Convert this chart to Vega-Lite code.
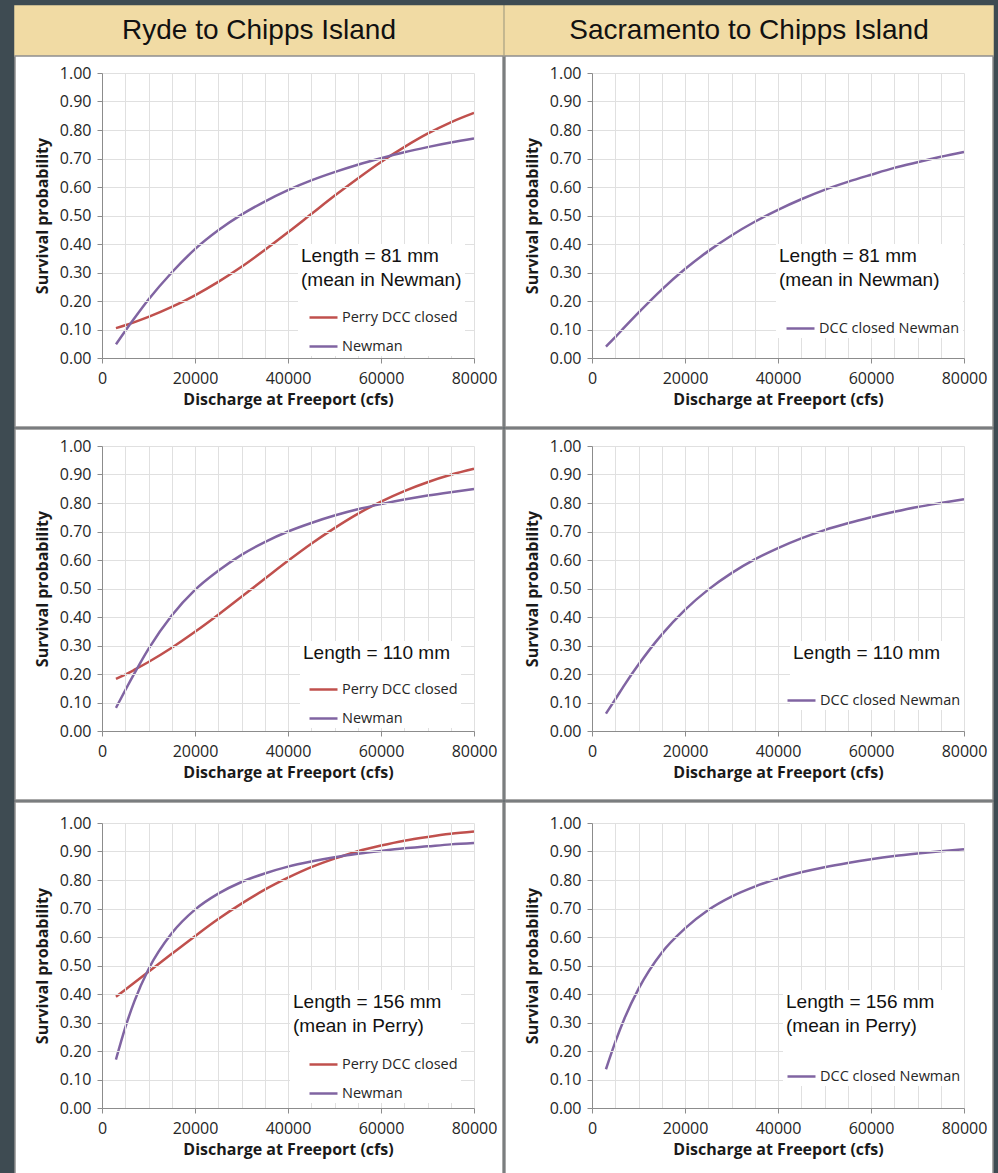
{
"$schema": "https://vega.github.io/schema/vega-lite/v6.json",
"padding": {"left": 14, "top": 5, "right": 5, "bottom": 0},
"background": "#3e4b52",
"config": {
 "view": {"stroke": null},
 "concat": {"spacing": 0},
 "axis": {"labelFont": "Open Sans", "labelFontSize": 16, "labelColor": "#262626", "titleFont": "Open Sans", "titleFontSize": 16, "titleFontWeight": "bold", "titleColor": "#1a1a1a", "domainColor": "#8c8c8c", "tickColor": "#8c8c8c", "tickSize": 5, "gridColor": "#e0e0e0", "zindex": 1, "labelOverlap": false},
 "axisX": {"labelPadding": 7, "titlePadding": 5},
 "axisY": {"labelPadding": 6, "titlePadding": 9},
 "legend": {"labelFont": "Open Sans", "labelFontSize": 14.5, "labelColor": "#262626", "symbolType": "stroke", "symbolSize": 784, "symbolStrokeWidth": 2.5, "rowPadding": 7, "padding": 3, "labelOffset": 3, "zindex": 2, "fillColor": "#ffffff", "titleFont": "Liberation Sans", "titleFontSize": 19, "titleFontWeight": "normal", "titleColor": "#111111", "titleLineHeight": 24, "titleLimit": 400, "orient": "none"}
},
"datasets": {
 "curves": [
  {"g":"A1","s":"Perry DCC closed","q":3000,"p":0.105},{"g":"A1","s":"Perry DCC closed","q":5000,"p":0.115},{"g":"A1","s":"Perry DCC closed","q":7000,"p":0.126},{"g":"A1","s":"Perry DCC closed","q":10000,"p":0.144},{"g":"A1","s":"Perry DCC closed","q":15000,"p":0.179},{"g":"A1","s":"Perry DCC closed","q":20000,"p":0.220},{"g":"A1","s":"Perry DCC closed","q":25000,"p":0.267},{"g":"A1","s":"Perry DCC closed","q":30000,"p":0.320},{"g":"A1","s":"Perry DCC closed","q":35000,"p":0.379},{"g":"A1","s":"Perry DCC closed","q":40000,"p":0.441},{"g":"A1","s":"Perry DCC closed","q":45000,"p":0.505},{"g":"A1","s":"Perry DCC closed","q":50000,"p":0.569},{"g":"A1","s":"Perry DCC closed","q":55000,"p":0.630},{"g":"A1","s":"Perry DCC closed","q":60000,"p":0.688},{"g":"A1","s":"Perry DCC closed","q":65000,"p":0.740},{"g":"A1","s":"Perry DCC closed","q":70000,"p":0.787},{"g":"A1","s":"Perry DCC closed","q":75000,"p":0.827},{"g":"A1","s":"Perry DCC closed","q":80000,"p":0.860},
  {"g":"A1","s":"Newman","q":3000,"p":0.048},{"g":"A1","s":"Newman","q":5000,"p":0.095},{"g":"A1","s":"Newman","q":7000,"p":0.140},{"g":"A1","s":"Newman","q":10000,"p":0.205},{"g":"A1","s":"Newman","q":15000,"p":0.300},{"g":"A1","s":"Newman","q":20000,"p":0.382},{"g":"A1","s":"Newman","q":25000,"p":0.448},{"g":"A1","s":"Newman","q":30000,"p":0.503},{"g":"A1","s":"Newman","q":35000,"p":0.549},{"g":"A1","s":"Newman","q":40000,"p":0.589},{"g":"A1","s":"Newman","q":45000,"p":0.623},{"g":"A1","s":"Newman","q":50000,"p":0.652},{"g":"A1","s":"Newman","q":55000,"p":0.678},{"g":"A1","s":"Newman","q":60000,"p":0.701},{"g":"A1","s":"Newman","q":65000,"p":0.722},{"g":"A1","s":"Newman","q":70000,"p":0.740},{"g":"A1","s":"Newman","q":75000,"p":0.756},{"g":"A1","s":"Newman","q":80000,"p":0.770},
  {"g":"B1","s":"DCC closed Newman","q":3000,"p":0.040},{"g":"B1","s":"DCC closed Newman","q":5000,"p":0.073},{"g":"B1","s":"DCC closed Newman","q":7000,"p":0.108},{"g":"B1","s":"DCC closed Newman","q":10000,"p":0.159},{"g":"B1","s":"DCC closed Newman","q":15000,"p":0.240},{"g":"B1","s":"DCC closed Newman","q":20000,"p":0.312},{"g":"B1","s":"DCC closed Newman","q":25000,"p":0.375},{"g":"B1","s":"DCC closed Newman","q":30000,"p":0.430},{"g":"B1","s":"DCC closed Newman","q":35000,"p":0.478},{"g":"B1","s":"DCC closed Newman","q":40000,"p":0.520},{"g":"B1","s":"DCC closed Newman","q":45000,"p":0.557},{"g":"B1","s":"DCC closed Newman","q":50000,"p":0.590},{"g":"B1","s":"DCC closed Newman","q":55000,"p":0.618},{"g":"B1","s":"DCC closed Newman","q":60000,"p":0.643},{"g":"B1","s":"DCC closed Newman","q":65000,"p":0.667},{"g":"B1","s":"DCC closed Newman","q":70000,"p":0.687},{"g":"B1","s":"DCC closed Newman","q":75000,"p":0.706},{"g":"B1","s":"DCC closed Newman","q":80000,"p":0.723},
  {"g":"A2","s":"Perry DCC closed","q":3000,"p":0.183},{"g":"A2","s":"Perry DCC closed","q":5000,"p":0.198},{"g":"A2","s":"Perry DCC closed","q":7000,"p":0.215},{"g":"A2","s":"Perry DCC closed","q":10000,"p":0.242},{"g":"A2","s":"Perry DCC closed","q":15000,"p":0.292},{"g":"A2","s":"Perry DCC closed","q":20000,"p":0.348},{"g":"A2","s":"Perry DCC closed","q":25000,"p":0.408},{"g":"A2","s":"Perry DCC closed","q":30000,"p":0.471},{"g":"A2","s":"Perry DCC closed","q":35000,"p":0.534},{"g":"A2","s":"Perry DCC closed","q":40000,"p":0.597},{"g":"A2","s":"Perry DCC closed","q":45000,"p":0.657},{"g":"A2","s":"Perry DCC closed","q":50000,"p":0.712},{"g":"A2","s":"Perry DCC closed","q":55000,"p":0.762},{"g":"A2","s":"Perry DCC closed","q":60000,"p":0.805},{"g":"A2","s":"Perry DCC closed","q":65000,"p":0.842},{"g":"A2","s":"Perry DCC closed","q":70000,"p":0.873},{"g":"A2","s":"Perry DCC closed","q":75000,"p":0.899},{"g":"A2","s":"Perry DCC closed","q":80000,"p":0.920},
  {"g":"A2","s":"Newman","q":3000,"p":0.081},{"g":"A2","s":"Newman","q":5000,"p":0.143},{"g":"A2","s":"Newman","q":7000,"p":0.203},{"g":"A2","s":"Newman","q":10000,"p":0.288},{"g":"A2","s":"Newman","q":15000,"p":0.405},{"g":"A2","s":"Newman","q":20000,"p":0.495},{"g":"A2","s":"Newman","q":25000,"p":0.562},{"g":"A2","s":"Newman","q":30000,"p":0.618},{"g":"A2","s":"Newman","q":35000,"p":0.663},{"g":"A2","s":"Newman","q":40000,"p":0.700},{"g":"A2","s":"Newman","q":45000,"p":0.730},{"g":"A2","s":"Newman","q":50000,"p":0.756},{"g":"A2","s":"Newman","q":55000,"p":0.778},{"g":"A2","s":"Newman","q":60000,"p":0.796},{"g":"A2","s":"Newman","q":65000,"p":0.812},{"g":"A2","s":"Newman","q":70000,"p":0.826},{"g":"A2","s":"Newman","q":75000,"p":0.838},{"g":"A2","s":"Newman","q":80000,"p":0.849},
  {"g":"B2","s":"DCC closed Newman","q":3000,"p":0.061},{"g":"B2","s":"DCC closed Newman","q":5000,"p":0.111},{"g":"B2","s":"DCC closed Newman","q":7000,"p":0.162},{"g":"B2","s":"DCC closed Newman","q":10000,"p":0.233},{"g":"B2","s":"DCC closed Newman","q":15000,"p":0.338},{"g":"B2","s":"DCC closed Newman","q":20000,"p":0.425},{"g":"B2","s":"DCC closed Newman","q":25000,"p":0.496},{"g":"B2","s":"DCC closed Newman","q":30000,"p":0.554},{"g":"B2","s":"DCC closed Newman","q":35000,"p":0.602},{"g":"B2","s":"DCC closed Newman","q":40000,"p":0.642},{"g":"B2","s":"DCC closed Newman","q":45000,"p":0.676},{"g":"B2","s":"DCC closed Newman","q":50000,"p":0.705},{"g":"B2","s":"DCC closed Newman","q":55000,"p":0.729},{"g":"B2","s":"DCC closed Newman","q":60000,"p":0.750},{"g":"B2","s":"DCC closed Newman","q":65000,"p":0.769},{"g":"B2","s":"DCC closed Newman","q":70000,"p":0.786},{"g":"B2","s":"DCC closed Newman","q":75000,"p":0.800},{"g":"B2","s":"DCC closed Newman","q":80000,"p":0.813},
  {"g":"A3","s":"Perry DCC closed","q":3000,"p":0.390},{"g":"A3","s":"Perry DCC closed","q":5000,"p":0.415},{"g":"A3","s":"Perry DCC closed","q":7000,"p":0.440},{"g":"A3","s":"Perry DCC closed","q":10000,"p":0.478},{"g":"A3","s":"Perry DCC closed","q":15000,"p":0.541},{"g":"A3","s":"Perry DCC closed","q":20000,"p":0.603},{"g":"A3","s":"Perry DCC closed","q":25000,"p":0.663},{"g":"A3","s":"Perry DCC closed","q":30000,"p":0.717},{"g":"A3","s":"Perry DCC closed","q":35000,"p":0.766},{"g":"A3","s":"Perry DCC closed","q":40000,"p":0.808},{"g":"A3","s":"Perry DCC closed","q":45000,"p":0.845},{"g":"A3","s":"Perry DCC closed","q":50000,"p":0.875},{"g":"A3","s":"Perry DCC closed","q":55000,"p":0.901},{"g":"A3","s":"Perry DCC closed","q":60000,"p":0.921},{"g":"A3","s":"Perry DCC closed","q":65000,"p":0.938},{"g":"A3","s":"Perry DCC closed","q":70000,"p":0.951},{"g":"A3","s":"Perry DCC closed","q":75000,"p":0.962},{"g":"A3","s":"Perry DCC closed","q":80000,"p":0.970},
  {"g":"A3","s":"Newman","q":3000,"p":0.170},{"g":"A3","s":"Newman","q":5000,"p":0.282},{"g":"A3","s":"Newman","q":7000,"p":0.376},{"g":"A3","s":"Newman","q":10000,"p":0.487},{"g":"A3","s":"Newman","q":15000,"p":0.613},{"g":"A3","s":"Newman","q":20000,"p":0.696},{"g":"A3","s":"Newman","q":25000,"p":0.752},{"g":"A3","s":"Newman","q":30000,"p":0.793},{"g":"A3","s":"Newman","q":35000,"p":0.823},{"g":"A3","s":"Newman","q":40000,"p":0.847},{"g":"A3","s":"Newman","q":45000,"p":0.865},{"g":"A3","s":"Newman","q":50000,"p":0.880},{"g":"A3","s":"Newman","q":55000,"p":0.892},{"g":"A3","s":"Newman","q":60000,"p":0.902},{"g":"A3","s":"Newman","q":65000,"p":0.911},{"g":"A3","s":"Newman","q":70000,"p":0.918},{"g":"A3","s":"Newman","q":75000,"p":0.925},{"g":"A3","s":"Newman","q":80000,"p":0.930},
  {"g":"B3","s":"DCC closed Newman","q":3000,"p":0.136},{"g":"B3","s":"DCC closed Newman","q":5000,"p":0.231},{"g":"B3","s":"DCC closed Newman","q":7000,"p":0.315},{"g":"B3","s":"DCC closed Newman","q":10000,"p":0.418},{"g":"B3","s":"DCC closed Newman","q":15000,"p":0.545},{"g":"B3","s":"DCC closed Newman","q":20000,"p":0.630},{"g":"B3","s":"DCC closed Newman","q":25000,"p":0.695},{"g":"B3","s":"DCC closed Newman","q":30000,"p":0.742},{"g":"B3","s":"DCC closed Newman","q":35000,"p":0.777},{"g":"B3","s":"DCC closed Newman","q":40000,"p":0.805},{"g":"B3","s":"DCC closed Newman","q":45000,"p":0.827},{"g":"B3","s":"DCC closed Newman","q":50000,"p":0.845},{"g":"B3","s":"DCC closed Newman","q":55000,"p":0.860},{"g":"B3","s":"DCC closed Newman","q":60000,"p":0.873},{"g":"B3","s":"DCC closed Newman","q":65000,"p":0.884},{"g":"B3","s":"DCC closed Newman","q":70000,"p":0.893},{"g":"B3","s":"DCC closed Newman","q":75000,"p":0.901},{"g":"B3","s":"DCC closed Newman","q":80000,"p":0.908}
 ]
},
"resolve": {"scale": {"x": "independent", "y": "independent", "color": "independent"}, "legend": {"color": "independent"}, "axis": {"x": "independent", "y": "independent"}},
"vconcat": [
 {
  "resolve": {"scale": {"x": "independent", "y": "independent", "color": "independent"}, "legend": {"color": "independent"}, "axis": {"x": "independent", "y": "independent"}},
  "hconcat": [
   {"width": 372, "height": 285, "layer": [
    {"data": {"values": [{}]}, "mark": {"type": "rect", "fill": "#f1dba4", "stroke": "#f1dba4", "strokeWidth": 1.5},
     "encoding": {"x": {"datum": -18710, "type": "quantitative", "scale": {"domain": [0, 80000], "nice": false, "zero": false}, "axis": {"title": "Discharge at Freeport (cfs)", "values": [0,5000,10000,15000,20000,25000,30000,35000,40000,45000,50000,55000,60000,65000,70000,75000,80000], "tickCount": 17, "format": "d", "labelExpr": "datum.value % 20000 === 0 ? datum.label : ''", "labelFlush": false, "labelOverlap": false, "tickOpacity": {"condition": {"test": "datum.value % 20000 === 0", "value": 1}, "value": 0}, "grid": true, "zindex": 1}}, "x2": {"datum": 86236},
                  "y": {"datum": 1.0596, "type": "quantitative", "scale": {"domain": [0, 1], "nice": false, "zero": false}, "axis": {"title": "Survival probability", "values": [0,0.1,0.2,0.3,0.4,0.5,0.6,0.7,0.8,0.9,1], "tickCount": 11, "format": ".2f", "labelOverlap": false, "grid": true, "zindex": 1}}, "y2": {"datum": 1.235}}},
    {"data": {"values": [{}]}, "mark": {"type": "rect", "fill": "#ffffff", "stroke": "#8f8f8f", "strokeWidth": 1.5},
     "encoding": {"x": {"datum": -18710, "type": "quantitative"}, "x2": {"datum": 86236},
                  "y": {"datum": -0.2421, "type": "quantitative"}, "y2": {"datum": 1.0596}}},
    {"data": {"name": "curves"}, "transform": [{"filter": "datum.g === 'A1'"}],
     "mark": {"type": "line", "strokeWidth": 2.5, "interpolate": "monotone"},
     "encoding": {
      "x": {"field": "q", "type": "quantitative"},
      "y": {"field": "p", "type": "quantitative"},
      "color": {"field": "s", "type": "nominal", "scale": {"domain": ["Perry DCC closed", "Newman"], "range": ["#c0504d", "#8064a2"]}, "legend": {"orient": "none", "legendX": 196, "legendY": 171, "title": ["Length = 81 mm", "(mean in Newman)"], "titlePadding": 12, "symbolOffset": 7}}
     }},
    {"data": {"values": [{}]}, "mark": {"type": "text", "text": "Ryde to Chipps Island", "align": "center", "baseline": "middle", "font": "Liberation Sans", "fontSize": 28, "color": "#111111"},
     "encoding": {"x": {"datum": 33763, "type": "quantitative"}, "y": {"datum": 1.147, "type": "quantitative"}}}
   ]},
   {"width": 372, "height": 285, "layer": [
    {"data": {"values": [{}]}, "mark": {"type": "rect", "fill": "#f1dba4", "stroke": "#f1dba4", "strokeWidth": 1.5},
     "encoding": {"x": {"datum": -18710, "type": "quantitative", "scale": {"domain": [0, 80000], "nice": false, "zero": false}, "axis": {"title": "Discharge at Freeport (cfs)", "values": [0,5000,10000,15000,20000,25000,30000,35000,40000,45000,50000,55000,60000,65000,70000,75000,80000], "tickCount": 17, "format": "d", "labelExpr": "datum.value % 20000 === 0 ? datum.label : ''", "labelFlush": false, "labelOverlap": false, "tickOpacity": {"condition": {"test": "datum.value % 20000 === 0", "value": 1}, "value": 0}, "grid": true, "zindex": 1}}, "x2": {"datum": 86236},
                  "y": {"datum": 1.0596, "type": "quantitative", "scale": {"domain": [0, 1], "nice": false, "zero": false}, "axis": {"title": "Survival probability", "values": [0,0.1,0.2,0.3,0.4,0.5,0.6,0.7,0.8,0.9,1], "tickCount": 11, "format": ".2f", "labelOverlap": false, "grid": true, "zindex": 1}}, "y2": {"datum": 1.235}}},
    {"data": {"values": [{}]}, "mark": {"type": "rect", "fill": "#ffffff", "stroke": "#8f8f8f", "strokeWidth": 1.5},
     "encoding": {"x": {"datum": -18710, "type": "quantitative"}, "x2": {"datum": 86236},
                  "y": {"datum": -0.2421, "type": "quantitative"}, "y2": {"datum": 1.0596}}},
    {"data": {"name": "curves"}, "transform": [{"filter": "datum.g === 'B1'"}],
     "mark": {"type": "line", "strokeWidth": 2.5, "interpolate": "monotone"},
     "encoding": {
      "x": {"field": "q", "type": "quantitative"},
      "y": {"field": "p", "type": "quantitative"},
      "color": {"field": "s", "type": "nominal", "scale": {"domain": ["DCC closed Newman"], "range": ["#8064a2"]}, "legend": {"orient": "none", "legendX": 184, "legendY": 171, "title": ["Length = 81 mm", "(mean in Newman)"], "titlePadding": 23, "symbolOffset": 6}}
     }},
    {"data": {"values": [{}]}, "mark": {"type": "text", "text": "Sacramento to Chipps Island", "align": "center", "baseline": "middle", "font": "Liberation Sans", "fontSize": 28, "color": "#111111"},
     "encoding": {"x": {"datum": 33763, "type": "quantitative"}, "y": {"datum": 1.147, "type": "quantitative"}}}
   ]}
  ]
 },
 {
  "resolve": {"scale": {"x": "independent", "y": "independent", "color": "independent"}, "legend": {"color": "independent"}, "axis": {"x": "independent", "y": "independent"}},
  "hconcat": [
   {"width": 372, "height": 285, "layer": [
    {"data": {"values": [{}]}, "mark": {"type": "rect", "fill": "#ffffff", "stroke": "#8f8f8f", "strokeWidth": 1.5},
     "encoding": {"x": {"datum": -18710, "type": "quantitative", "scale": {"domain": [0, 80000], "nice": false, "zero": false}, "axis": {"title": "Discharge at Freeport (cfs)", "values": [0,5000,10000,15000,20000,25000,30000,35000,40000,45000,50000,55000,60000,65000,70000,75000,80000], "tickCount": 17, "format": "d", "labelExpr": "datum.value % 20000 === 0 ? datum.label : ''", "labelFlush": false, "labelOverlap": false, "tickOpacity": {"condition": {"test": "datum.value % 20000 === 0", "value": 1}, "value": 0}, "grid": true, "zindex": 1}}, "x2": {"datum": 86236},
                  "y": {"datum": -0.2421, "type": "quantitative", "scale": {"domain": [0, 1], "nice": false, "zero": false}, "axis": {"title": "Survival probability", "values": [0,0.1,0.2,0.3,0.4,0.5,0.6,0.7,0.8,0.9,1], "tickCount": 11, "format": ".2f", "labelOverlap": false, "grid": true, "zindex": 1}}, "y2": {"datum": 1.0596}}},
    {"data": {"name": "curves"}, "transform": [{"filter": "datum.g === 'A2'"}],
     "mark": {"type": "line", "strokeWidth": 2.5, "interpolate": "monotone"},
     "encoding": {
      "x": {"field": "q", "type": "quantitative"},
      "y": {"field": "p", "type": "quantitative"},
      "color": {"field": "s", "type": "nominal", "scale": {"domain": ["Perry DCC closed", "Newman"], "range": ["#c0504d", "#8064a2"]}, "legend": {"orient": "none", "legendX": 198, "legendY": 195, "title": "Length = 110 mm", "titlePadding": 11, "symbolOffset": 5}}
     }}
   ]},
   {"width": 372, "height": 285, "layer": [
    {"data": {"values": [{}]}, "mark": {"type": "rect", "fill": "#ffffff", "stroke": "#8f8f8f", "strokeWidth": 1.5},
     "encoding": {"x": {"datum": -18710, "type": "quantitative", "scale": {"domain": [0, 80000], "nice": false, "zero": false}, "axis": {"title": "Discharge at Freeport (cfs)", "values": [0,5000,10000,15000,20000,25000,30000,35000,40000,45000,50000,55000,60000,65000,70000,75000,80000], "tickCount": 17, "format": "d", "labelExpr": "datum.value % 20000 === 0 ? datum.label : ''", "labelFlush": false, "labelOverlap": false, "tickOpacity": {"condition": {"test": "datum.value % 20000 === 0", "value": 1}, "value": 0}, "grid": true, "zindex": 1}}, "x2": {"datum": 86236},
                  "y": {"datum": -0.2421, "type": "quantitative", "scale": {"domain": [0, 1], "nice": false, "zero": false}, "axis": {"title": "Survival probability", "values": [0,0.1,0.2,0.3,0.4,0.5,0.6,0.7,0.8,0.9,1], "tickCount": 11, "format": ".2f", "labelOverlap": false, "grid": true, "zindex": 1}}, "y2": {"datum": 1.0596}}},
    {"data": {"name": "curves"}, "transform": [{"filter": "datum.g === 'B2'"}],
     "mark": {"type": "line", "strokeWidth": 2.5, "interpolate": "monotone"},
     "encoding": {
      "x": {"field": "q", "type": "quantitative"},
      "y": {"field": "p", "type": "quantitative"},
      "color": {"field": "s", "type": "nominal", "scale": {"domain": ["DCC closed Newman"], "range": ["#8064a2"]}, "legend": {"orient": "none", "legendX": 198, "legendY": 195, "title": "Length = 110 mm", "titlePadding": 22, "symbolOffset": -7}}
     }}
   ]}
  ]
 },
 {
  "resolve": {"scale": {"x": "independent", "y": "independent", "color": "independent"}, "legend": {"color": "independent"}, "axis": {"x": "independent", "y": "independent"}},
  "hconcat": [
   {"width": 372, "height": 285, "layer": [
    {"data": {"values": [{}]}, "mark": {"type": "rect", "fill": "#ffffff", "stroke": "#8f8f8f", "strokeWidth": 1.5},
     "encoding": {"x": {"datum": -18710, "type": "quantitative", "scale": {"domain": [0, 80000], "nice": false, "zero": false}, "axis": {"title": "Discharge at Freeport (cfs)", "values": [0,5000,10000,15000,20000,25000,30000,35000,40000,45000,50000,55000,60000,65000,70000,75000,80000], "tickCount": 17, "format": "d", "labelExpr": "datum.value % 20000 === 0 ? datum.label : ''", "labelFlush": false, "labelOverlap": false, "tickOpacity": {"condition": {"test": "datum.value % 20000 === 0", "value": 1}, "value": 0}, "grid": true, "zindex": 1}}, "x2": {"datum": 86236},
                  "y": {"datum": -0.2421, "type": "quantitative", "scale": {"domain": [0, 1], "nice": false, "zero": false}, "axis": {"title": "Survival probability", "values": [0,0.1,0.2,0.3,0.4,0.5,0.6,0.7,0.8,0.9,1], "tickCount": 11, "format": ".2f", "labelOverlap": false, "grid": true, "zindex": 1}}, "y2": {"datum": 1.0737}}},
    {"data": {"name": "curves"}, "transform": [{"filter": "datum.g === 'A3'"}],
     "mark": {"type": "line", "strokeWidth": 2.5, "interpolate": "monotone"},
     "encoding": {
      "x": {"field": "q", "type": "quantitative"},
      "y": {"field": "p", "type": "quantitative"},
      "color": {"field": "s", "type": "nominal", "scale": {"domain": ["Perry DCC closed", "Newman"], "range": ["#c0504d", "#8064a2"]}, "legend": {"orient": "none", "legendX": 188, "legendY": 167, "title": ["Length = 156 mm", "(mean in Perry)"], "titlePadding": 13, "symbolOffset": 15}}
     }}
   ]},
   {"width": 372, "height": 285, "layer": [
    {"data": {"values": [{}]}, "mark": {"type": "rect", "fill": "#ffffff", "stroke": "#8f8f8f", "strokeWidth": 1.5},
     "encoding": {"x": {"datum": -18710, "type": "quantitative", "scale": {"domain": [0, 80000], "nice": false, "zero": false}, "axis": {"title": "Discharge at Freeport (cfs)", "values": [0,5000,10000,15000,20000,25000,30000,35000,40000,45000,50000,55000,60000,65000,70000,75000,80000], "tickCount": 17, "format": "d", "labelExpr": "datum.value % 20000 === 0 ? datum.label : ''", "labelFlush": false, "labelOverlap": false, "tickOpacity": {"condition": {"test": "datum.value % 20000 === 0", "value": 1}, "value": 0}, "grid": true, "zindex": 1}}, "x2": {"datum": 86236},
                  "y": {"datum": -0.2421, "type": "quantitative", "scale": {"domain": [0, 1], "nice": false, "zero": false}, "axis": {"title": "Survival probability", "values": [0,0.1,0.2,0.3,0.4,0.5,0.6,0.7,0.8,0.9,1], "tickCount": 11, "format": ".2f", "labelOverlap": false, "grid": true, "zindex": 1}}, "y2": {"datum": 1.0737}}},
    {"data": {"name": "curves"}, "transform": [{"filter": "datum.g === 'B3'"}],
     "mark": {"type": "line", "strokeWidth": 2.5, "interpolate": "monotone"},
     "encoding": {
      "x": {"field": "q", "type": "quantitative"},
      "y": {"field": "p", "type": "quantitative"},
      "color": {"field": "s", "type": "nominal", "scale": {"domain": ["DCC closed Newman"], "range": ["#8064a2"]}, "legend": {"orient": "none", "legendX": 191, "legendY": 167, "title": ["Length = 156 mm", "(mean in Perry)"], "titlePadding": 25, "symbolOffset": 0}}
     }}
   ]}
  ]
 }
]
}
